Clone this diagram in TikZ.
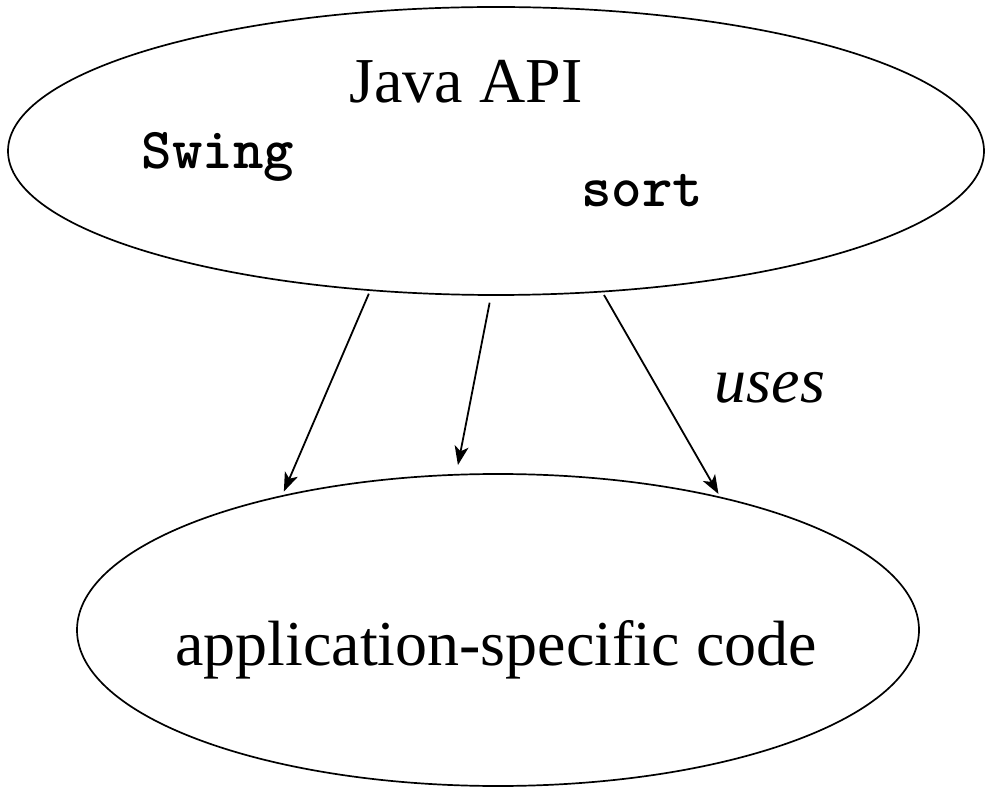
\documentclass[tikz,border=0pt]{standalone}
\usepackage{fontspec}
\setmainfont{Liberation Serif}
\usetikzlibrary{shapes.geometric,arrows.meta}

\begin{document}
\begin{tikzpicture}[x=1pt, y=1pt,
	conjunto/.style={ellipse, draw, line width=1.7pt, inner sep=0pt},
	flecha/.style={line width=1.8pt, -{Stealth[length=19pt, width=14pt, inset=5pt]}},
	texto/.style={font=\fontsize{64}{70}\selectfont, anchor=base},
	codigo/.style={font=\fontsize{58}{64}\selectfont\ttfamily\bfseries, anchor=base}]
	\useasboundingbox (0,0) rectangle (988,788);
	
	% las dos elipses
	\node[conjunto, minimum width=976pt, minimum height=288pt] (api) at (496,637) {};
	\node[conjunto, minimum width=842pt, minimum height=312pt] (app) at (498,158) {};
	
	% textos
	\node[texto] (java) at (466,685) {Java API};
	\node[codigo] (swing) at (218,619) {Swing};
	\node[codigo] (sort) at (642,581) {sort};
	\node[texto] (uses) at (770,385) {\itshape uses};
	\node[texto] (codigo) at (496,123) {application-specific code};
	
	% flechas de arriba hacia abajo
	\draw[flecha, shorten <=3pt, shorten >=4pt] (api.228) -- (app.148);
	\draw[flecha, shorten <=7pt, shorten >=9pt] (api.268) -- (app.105);
	\draw[flecha, shorten <=3pt, shorten >=3pt] (api.307) -- (app.31);
\end{tikzpicture}
\end{document}
